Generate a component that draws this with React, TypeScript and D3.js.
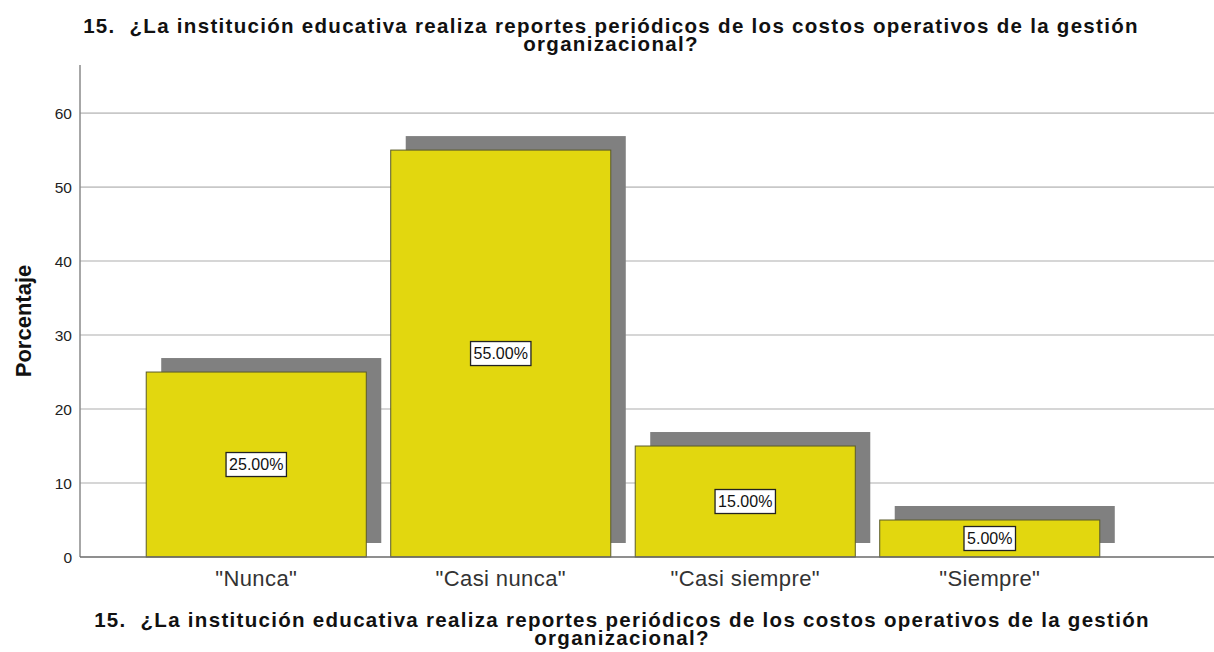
import * as d3 from "d3";

const categories = ['"Nunca"', '"Casi nunca"', '"Casi siempre"', '"Siempre"'];
const percentages = [25, 55, 15, 5];
const yTicks = [0, 10, 20, 30, 40, 50, 60];
const titleLines = [
  "15.  ¿La institución educativa realiza reportes periódicos de los costos operativos de la gestión",
  "organizacional?",
];
const yLabel = "Porcentaje";

const width = 1214;
const height = 652;
const axisX = 80;
const font = "'Liberation Sans', Arial, sans-serif";
const shadow = { dx: 15, dy: -14 };

const y = d3.scaleLinear().domain([0, 66.5]).range([557, 65]);
const x = d3.scaleBand<string>().domain(categories).range([134, 1112]).paddingInner(0.1).paddingOuter(0.05);

function Title({ cx, top }: { cx: number; top: number }) {
  return (
    <>
      {titleLines.map((t, i) => (
        <text
          key={i}
          x={cx}
          y={top + i * 18}
          textAnchor="middle"
          fontSize={20.5}
          fontWeight="bold"
          letterSpacing={1.3}
          fill="#111"
          style={{ whiteSpace: "pre" }}
        >
          {t}
        </text>
      ))}
    </>
  );
}

export default function App() {
  const bw = x.bandwidth();
  return (
    <div style={{ position: "fixed", left: 0, top: 0 }}>
      <svg width={width} height={height} style={{ display: "block", background: "#fff", fontFamily: font }}>
        {/* gridlines */}
        {yTicks.map((t) => (
          <g key={t}>
            {t > 0 && <line x1={axisX} x2={width} y1={y(t)} y2={y(t)} stroke="#c8c8c8" strokeWidth={1.6} />}
            <text x={72} y={y(t)} dy="0.36em" textAnchor="end" fontSize={15.5} fill="#222">
              {t}
            </text>
          </g>
        ))}

        {/* shadows */}
        {categories.map((c, i) => (
          <rect
            key={"s" + c}
            x={(x(c) ?? 0) + shadow.dx}
            y={y(percentages[i]) + shadow.dy}
            width={bw}
            height={y(0) - y(percentages[i])}
            fill="#808080"
          />
        ))}

        {/* bars */}
        {categories.map((c, i) => (
          <rect
            key={c}
            x={x(c)}
            y={y(percentages[i])}
            width={bw}
            height={y(0) - y(percentages[i])}
            fill="#e2d70f"
            stroke="#5a5a2a"
            strokeWidth={1}
          />
        ))}

        {/* axes */}
        <line x1={axisX} x2={axisX} y1={65} y2={y(0)} stroke="#8a8a8a" strokeWidth={1.5} />
        <line x1={axisX} x2={width} y1={y(0)} y2={y(0)} stroke="#6a6a6a" strokeWidth={1.5} />

        {/* value labels */}
        {categories.map((c, i) => {
          const label = d3.format(".2f")(percentages[i]) + "%";
          const cx = (x(c) ?? 0) + bw / 2;
          const cy = (y(percentages[i]) + y(0)) / 2;
          const boxW = label.length * 8.9 + 7;
          return (
            <g key={"l" + c}>
              <rect x={cx - boxW / 2} y={cy - 12} width={boxW} height={24} fill="#fff" stroke="#222" strokeWidth={1.3} />
              <text x={cx} y={cy} dy="0.36em" textAnchor="middle" fontSize={16} fill="#111">
                {label}
              </text>
            </g>
          );
        })}

        {/* category labels */}
        {categories.map((c) => (
          <text
            key={"c" + c}
            x={(x(c) ?? 0) + bw / 2}
            y={586}
            textAnchor="middle"
            fontSize={22}
            letterSpacing={0.4}
            fill="#333"
          >
            {c}
          </text>
        ))}

        {/* y label */}
        <text
          transform={`translate(31, 321) rotate(-90)`}
          textAnchor="middle"
          fontSize={22}
          fontWeight="bold"
          fill="#111"
        >
          {yLabel}
        </text>

        <Title cx={611} top={33} />
        <Title cx={622} top={627} />
      </svg>
    </div>
  );
}
